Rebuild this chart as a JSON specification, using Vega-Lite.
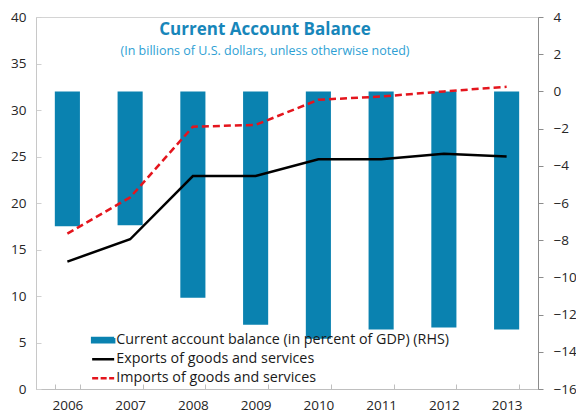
{
  "$schema": "https://vega.github.io/schema/vega-lite/v6.json",
  "width": 502,
  "height": 372,
  "autosize": {"type": "none"},
  "padding": {"left": 36, "top": 17, "right": 38, "bottom": 28},
  "config": {
    "font": "Open Sans",
    "view": {"stroke": "#d4d4d4", "strokeWidth": 1},
    "axis": {"labelFont": "Open Sans", "labelFontSize": 13.5, "labelColor": "#262626", "grid": false, "title": null}
  },
  "title": {
    "text": "Current Account Balance",
    "subtitle": "(In billions of U.S. dollars, unless otherwise noted)",
    "anchor": "middle",
    "frame": "group",
    "orient": "top",
    "offset": -48,
    "dx": -22,
    "font": "Open Sans",
    "fontSize": 17,
    "fontWeight": "bold",
    "color": "#1786ba",
    "subtitleFont": "Open Sans",
    "subtitleFontSize": 12.5,
    "subtitleColor": "#2e9fd4",
    "subtitlePadding": 6
  },
  "data": {
    "values": [
      {"year": "2006", "ca": -7.25, "exports": 13.7, "imports": 16.7},
      {"year": "2007", "ca": -7.2, "exports": 16.1, "imports": 20.6},
      {"year": "2008", "ca": -11.1, "exports": 22.9, "imports": 28.2},
      {"year": "2009", "ca": -12.55, "exports": 22.9, "imports": 28.4},
      {"year": "2010", "ca": -13.3, "exports": 24.7, "imports": 31.1},
      {"year": "2011", "ca": -12.8, "exports": 24.7, "imports": 31.45},
      {"year": "2012", "ca": -12.7, "exports": 25.3, "imports": 32.0},
      {"year": "2013", "ca": -12.8, "exports": 25.0, "imports": 32.5}
    ]
  },
  "encoding": {
    "x": {
      "field": "year",
      "type": "ordinal",
      "scale": {"paddingInner": 0.6, "paddingOuter": 0.3},
      "axis": {
        "labelAngle": 0,
        "domainColor": "#bfbfbf",
        "tickColor": "#bfbfbf",
        "tickSize": -5,
        "tickBand": "extent",
        "labelPadding": 14
      }
    }
  },
  "layer": [
    {
      "mark": {"type": "bar"},
      "encoding": {
        "y": {
          "field": "ca",
          "type": "quantitative",
          "scale": {"domain": [-16, 4], "nice": false},
          "axis": {
            "orient": "right",
            "values": [-16, -14, -12, -10, -8, -6, -4, -2, 0, 2, 4],
            "domainColor": "#8c8c8c",
            "tickColor": "#8c8c8c",
            "tickSize": 5,
            "labelPadding": 10
          }
        },
        "color": {
          "datum": "Current account balance (in percent of GDP) (RHS)",
          "scale": {
            "domain": ["Current account balance (in percent of GDP) (RHS)", "Exports of goods and services", "Imports of goods and services"],
            "range": ["#0a82b0", "#000000", "#e4151d"]
          },
          "legend": {
            "orient": "none",
            "legendX": 60,
            "legendY": 316,
            "title": null,
            "padding": 0,
            "labelFont": "Open Sans",
            "labelFontSize": 14.3,
            "labelColor": "#1a1a1a",
            "labelLimit": 0,
            "symbolSize": 100,
            "labelOffset": 6,
            "rowPadding": 4,
            "encode": {
              "symbols": {
                "update": {
                  "shape": {"signal": "datum.value === 'Current account balance (in percent of GDP) (RHS)' ? 'M-2.2,-0.42H2.2V0.42H-2.2Z' : 'M-2.2,0H2.2'"},
                  "fill": {"signal": "datum.value === 'Current account balance (in percent of GDP) (RHS)' ? '#0a82b0' : 'transparent'"},
                  "stroke": {"signal": "datum.value === 'Current account balance (in percent of GDP) (RHS)' ? 'transparent' : (datum.value === 'Exports of goods and services' ? '#000000' : '#e4151d')"},
                  "strokeDash": {"signal": "datum.value === 'Imports of goods and services' ? [6, 2.5] : [1, 0]"},
                  "strokeWidth": {"value": 2.5},
                  "opacity": {"value": 1}
                }
              }
            }
          }
        }
      }
    },
    {
      "layer": [
        {
          "mark": {"type": "line", "strokeWidth": 2.5},
          "encoding": {
            "y": {"field": "exports", "type": "quantitative"},
            "color": {"datum": "Exports of goods and services"}
          }
        },
        {
          "mark": {"type": "line", "strokeWidth": 2.5, "strokeDash": [7, 4]},
          "encoding": {
            "y": {"field": "imports", "type": "quantitative"},
            "color": {"datum": "Imports of goods and services"}
          }
        }
      ],
      "encoding": {
        "y": {
          "type": "quantitative",
          "scale": {"domain": [0, 40], "nice": false},
          "axis": {
            "orient": "left",
            "values": [0, 5, 10, 15, 20, 25, 30, 35, 40],
            "domainColor": "#c8c8c8",
            "tickColor": "#d0d0d0",
            "tickSize": -5,
            "labelPadding": 15
          }
        }
      }
    }
  ],
  "resolve": {"scale": {"y": "independent"}}
}
